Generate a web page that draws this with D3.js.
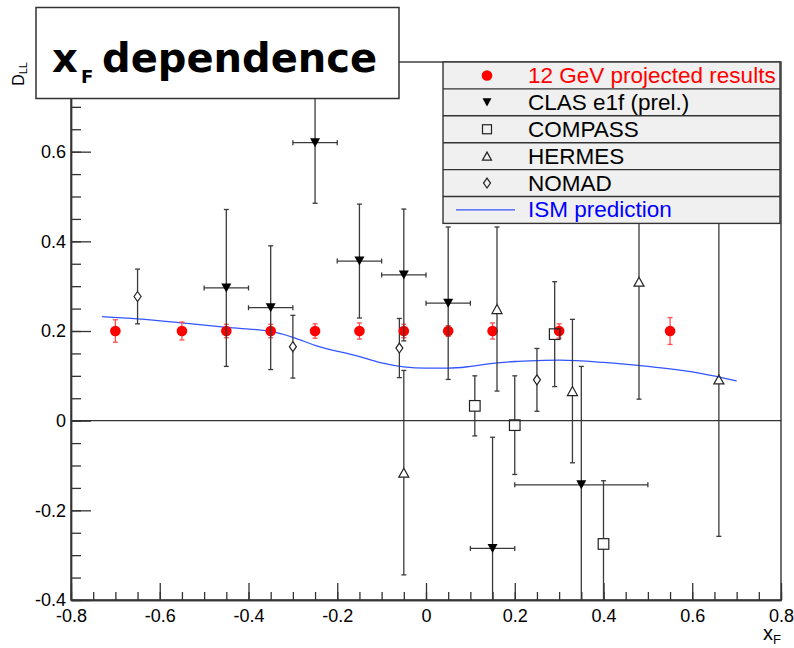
<!DOCTYPE html>
<html>
<head>
<meta charset="utf-8">
<script src="https://cdn.jsdelivr.net/npm/d3@7"></script>
<style>
  body { margin: 0; background: #fff; }
  text { font-family: "Liberation Sans", Arial, sans-serif; }
  text.title { font-family: "DejaVu Sans", Verdana, sans-serif; font-weight: bold; }
</style>
</head>
<body>
<div id="container"></div>
<script>
/* CONSTANTS AND GLOBALS */
const width = 794;
const height = 648;
const margin = { top: 62, bottom: 48, left: 71, right: 13 };

/* DATA */
// 12 GeV projected results
const gevX = [-0.7, -0.55, -0.45, -0.35, -0.25, -0.15, -0.05, 0.05, 0.15, 0.3, 0.55];
const gevY = [0.2, 0.2, 0.2, 0.2, 0.2, 0.2, 0.2, 0.2, 0.2, 0.2, 0.2];
const gevErr = [0.025, 0.02, 0.015, 0.015, 0.016, 0.018, 0.015, 0.012, 0.018, 0.016, 0.03];

// CLAS e1f (prel.)
const clasX = [-0.45, -0.35, -0.25, -0.15, -0.05, 0.05, 0.15, 0.35];
const clasY = [0.296, 0.252, 0.62, 0.356, 0.325, 0.262, -0.285, -0.143];
const clasErrY = [0.175, 0.138, 0.135, 0.127, 0.147, 0.17, 0.248, 0.264];
const clasErrX = [0.05, 0.05, 0.05, 0.05, 0.05, 0.05, 0.05, 0.15];

// COMPASS
const compassX = [0.11, 0.2, 0.29, 0.4];
const compassY = [0.033, -0.01, 0.193, -0.275];
const compassErr = [0.067, 0.11, 0.117, 0.141];

// HERMES
const hermesX = [-0.05, 0.16, 0.33, 0.48, 0.66];
const hermesY = [-0.116, 0.249, 0.066, 0.31, 0.092];
const hermesErr = [0.228, 0.183, 0.16, 0.262, 0.35];

// NOMAD
const nomadX = [-0.65, -0.3, -0.06, 0.25];
const nomadY = [0.277, 0.165, 0.162, 0.091];
const nomadErr = [0.061, 0.07, 0.066, 0.07];

// ISM prediction curve
const ismX = [-0.73, -0.65, -0.55, -0.45, -0.35, -0.3, -0.25, -0.15, -0.1, -0.05, 0, 0.05, 0.1, 0.15, 0.2, 0.25, 0.3, 0.4, 0.5, 0.6, 0.7];
const ismY = [0.232, 0.227, 0.218, 0.208, 0.199, 0.186, 0.168, 0.143, 0.129, 0.12, 0.117, 0.117, 0.121, 0.128, 0.132, 0.134, 0.135, 0.13, 0.121, 0.109, 0.089];

// axis ticks
const xTicks = [-0.8, -0.6, -0.4, -0.2, 0, 0.2, 0.4, 0.6, 0.8];
const yTicks = [-0.4, -0.2, 0, 0.2, 0.4, 0.6];

const legendLabels = ["12 GeV projected results", "CLAS e1f (prel.)", "COMPASS", "HERMES", "NOMAD", "ISM prediction"];

/* SCALES */
const xScale = d3.scaleLinear()
  .domain([-0.8, 0.8])
  .range([margin.left, width - margin.right]);

const yScale = d3.scaleLinear()
  .domain([-0.4, 0.8])
  .range([height - margin.bottom, margin.top]);

const axisColor = "#333";
const fmt = d => d === 0 ? "0" : String(+d.toFixed(1));

/* HTML ELEMENTS */
const svg = d3.select("#container")
  .append("svg")
  .attr("width", width)
  .attr("height", height);

svg.append("clipPath").attr("id", "plot")
  .append("rect")
  .attr("x", margin.left).attr("y", margin.top)
  .attr("width", width - margin.left - margin.right)
  .attr("height", height - margin.top - margin.bottom);

// frame
svg.append("rect")
  .attr("x", margin.left).attr("y", margin.top)
  .attr("width", width - margin.left - margin.right)
  .attr("height", height - margin.top - margin.bottom)
  .attr("fill", "none")
  .attr("stroke", axisColor)
  .attr("stroke-width", 1.4);

// zero line
svg.append("line")
  .attr("x1", margin.left).attr("x2", width - margin.right)
  .attr("y1", yScale(0)).attr("y2", yScale(0))
  .attr("stroke", axisColor).attr("stroke-width", 1.4);

// axes
const minor = d3.range(-16, 17).map(i => i * 0.05);

const xAxisG = svg.append("g")
  .attr("transform", `translate(0,${height - margin.bottom})`);
xAxisG.append("g").call(d3.axisBottom(xScale).tickValues(minor).tickSizeInner(-8).tickSizeOuter(0).tickFormat(""));
xAxisG.append("g").call(d3.axisBottom(xScale).tickValues(xTicks).tickSizeInner(-17).tickSizeOuter(0).tickPadding(9).tickFormat(fmt));

const yAxisG = svg.append("g")
  .attr("transform", `translate(${margin.left},0)`);
yAxisG.append("g").call(d3.axisLeft(yScale).tickValues(minor.filter(v => v >= -0.4 && v <= 0.8)).tickSizeInner(-10).tickSizeOuter(0).tickFormat(""));
yAxisG.append("g").call(d3.axisLeft(yScale).tickValues(yTicks).tickSizeInner(-20).tickSizeOuter(0).tickPadding(5).tickFormat(fmt));

svg.selectAll(".domain").attr("stroke", axisColor).attr("stroke-width", 1.4);
svg.selectAll(".tick line").attr("stroke", axisColor).attr("stroke-width", 1.3);
svg.selectAll(".tick text")
  .attr("font-size", 18)
  .attr("fill", "#000");

// axis titles
const xTitle = svg.append("text")
  .attr("x", width - margin.right).attr("y", 640)
  .attr("text-anchor", "end")
  .attr("font-size", 20);
xTitle.append("tspan").text("x");
xTitle.append("tspan").attr("font-size", 13).attr("dy", 4).text("F");

const yTitle = svg.append("text")
  .attr("transform", `translate(24,${margin.top}) rotate(-90)`)
  .attr("text-anchor", "end")
  .attr("font-size", 16);
yTitle.append("tspan").text("D");
yTitle.append("tspan").attr("font-size", 11).attr("dy", 3).text("LL");

/* MARKS */
const plot = svg.append("g").attr("clip-path", "url(#plot)");
const barColor = "#3a3a3a";

// vertical error bars with a gap around the marker
function yBars(xs, ys, errs, gap, color, cap) {
  const g = plot.append("g").attr("stroke", color).attr("stroke-width", 1.3);
  xs.forEach((xv, i) => {
    const cx = xScale(xv);
    const top = yScale(ys[i] + errs[i]);
    const bot = yScale(ys[i] - errs[i]);
    const cy = yScale(ys[i]);
    if (cy - top > gap) g.append("line").attr("x1", cx).attr("x2", cx).attr("y1", top).attr("y2", cy - gap);
    if (bot - cy > gap) g.append("line").attr("x1", cx).attr("x2", cx).attr("y1", cy + gap).attr("y2", bot);
    [top, bot].forEach(yy => g.append("line")
      .attr("x1", cx - cap).attr("x2", cx + cap).attr("y1", yy).attr("y2", yy));
  });
}

function xBars(xs, ys, errs, color, cap) {
  const g = plot.append("g").attr("stroke", color).attr("stroke-width", 1.3);
  xs.forEach((xv, i) => {
    const cy = yScale(ys[i]);
    const l = xScale(xv - errs[i]);
    const r = xScale(xv + errs[i]);
    g.append("line").attr("x1", l).attr("x2", r).attr("y1", cy).attr("y2", cy);
    [l, r].forEach(xx => g.append("line")
      .attr("x1", xx).attr("x2", xx).attr("y1", cy - cap).attr("y2", cy + cap));
  });
}

const triDown = s => `M${-s},${-s * 0.9}L${s},${-s * 0.9}L0,${s * 0.9}Z`;
const triUp = s => `M${-s},${s * 0.9}L${s},${s * 0.9}L0,${-s * 0.9}Z`;
const diamond = `M0,-5L3.5,0L0,5L-3.5,0Z`;

// ISM curve
const line = d3.line()
  .x(d => xScale(d[0]))
  .y(d => yScale(d[1]))
  .curve(d3.curveMonotoneX);

plot.append("path")
  .datum(ismX.map((v, i) => [v, ismY[i]]))
  .attr("d", line)
  .attr("fill", "none")
  .attr("stroke", "#3355ff")
  .attr("stroke-width", 1.3);

// NOMAD
yBars(nomadX, nomadY, nomadErr, 5, barColor, 2.5);
plot.selectAll(".nomad")
  .data(nomadX)
  .join("path")
  .attr("transform", (d, i) => `translate(${xScale(d)},${yScale(nomadY[i])})`)
  .attr("d", diamond)
  .attr("fill", "none").attr("stroke", "#222").attr("stroke-width", 1.2);

// 12 GeV
yBars(gevX, gevY, gevErr, 0, "#ff4d4d", 2.5);
plot.selectAll(".gev")
  .data(gevX)
  .join("circle")
  .attr("cx", d => xScale(d))
  .attr("cy", (d, i) => yScale(gevY[i]))
  .attr("r", 5.3)
  .attr("fill", "#ff0000");

// CLAS
yBars(clasX, clasY, clasErrY, 0, barColor, 2.5);
xBars(clasX, clasY, clasErrX, barColor, 2.5);
plot.selectAll(".clas")
  .data(clasX)
  .join("path")
  .attr("transform", (d, i) => `translate(${xScale(d)},${yScale(clasY[i])})`)
  .attr("d", triDown(5))
  .attr("fill", "#000");

// COMPASS
yBars(compassX, compassY, compassErr, 5.3, barColor, 2.5);
plot.selectAll(".compass")
  .data(compassX)
  .join("rect")
  .attr("x", d => xScale(d) - 5.3)
  .attr("y", (d, i) => yScale(compassY[i]) - 5.3)
  .attr("width", 10.6).attr("height", 10.6)
  .attr("fill", "none").attr("stroke", "#222").attr("stroke-width", 1.2);

// HERMES
yBars(hermesX, hermesY, hermesErr, 4.5, barColor, 2.5);
plot.selectAll(".hermes")
  .data(hermesX)
  .join("path")
  .attr("transform", (d, i) => `translate(${xScale(d)},${yScale(hermesY[i])})`)
  .attr("d", triUp(5))
  .attr("fill", "none").attr("stroke", "#222").attr("stroke-width", 1.2);

/* LEGEND */
const lg = { x: 443, y: 62, w: 337, rowH: 26.9 };
const legend = svg.append("g");
legend.append("rect")
  .attr("x", lg.x).attr("y", lg.y)
  .attr("width", lg.w).attr("height", lg.rowH * legendLabels.length)
  .attr("fill", "#f0f0f0")
  .attr("stroke", axisColor).attr("stroke-width", 1.4);

legendLabels.forEach((lab, i) => {
  const cy = lg.y + lg.rowH * (i + 0.5);
  if (i > 0) {
    legend.append("line")
      .attr("x1", lg.x).attr("x2", lg.x + lg.w)
      .attr("y1", lg.y + lg.rowH * i).attr("y2", lg.y + lg.rowH * i)
      .attr("stroke", axisColor).attr("stroke-width", 1.4);
  }
  legend.append("text")
    .attr("x", 528).attr("y", cy + 7.5)
    .attr("font-size", 22.5)
    .attr("fill", i === 0 ? "#ff0000" : i === 5 ? "#0000ff" : "#000")
    .text(lab);
});

const mx = 487;
const rowY = i => lg.y + lg.rowH * (i + 0.5);
legend.append("circle").attr("cx", mx).attr("cy", rowY(0)).attr("r", 5.3).attr("fill", "#ff0000");
legend.append("path").attr("transform", `translate(${mx},${rowY(1)})`).attr("d", triDown(4.5)).attr("fill", "#000");
legend.append("rect").attr("x", mx - 4.5).attr("y", rowY(2) - 4.5).attr("width", 9).attr("height", 9)
  .attr("fill", "none").attr("stroke", "#222").attr("stroke-width", 1.2);
legend.append("path").attr("transform", `translate(${mx},${rowY(3)})`).attr("d", triUp(4.5))
  .attr("fill", "none").attr("stroke", "#222").attr("stroke-width", 1.2);
legend.append("path").attr("transform", `translate(${mx},${rowY(4)})`).attr("d", diamond)
  .attr("fill", "none").attr("stroke", "#222").attr("stroke-width", 1.2);
legend.append("line").attr("x1", 456).attr("x2", 515).attr("y1", rowY(5)).attr("y2", rowY(5))
  .attr("stroke", "#3355ff").attr("stroke-width", 1.3);

/* TITLE BOX */
svg.append("rect")
  .attr("x", 36).attr("y", 7.5)
  .attr("width", 363).attr("height", 91)
  .attr("fill", "#fff")
  .attr("stroke", axisColor).attr("stroke-width", 1.5);

svg.append("text").attr("class", "title").attr("x", 52).attr("y", 72)
  .attr("font-size", 40)
  .text("x");
svg.append("text").attr("class", "title").attr("x", 81).attr("y", 83)
  .attr("font-size", 18)
  .text("F");
svg.append("text").attr("class", "title").attr("x", 102).attr("y", 72)
  .attr("font-size", 40)
  .text("dependence");
</script>
</body>
</html>
